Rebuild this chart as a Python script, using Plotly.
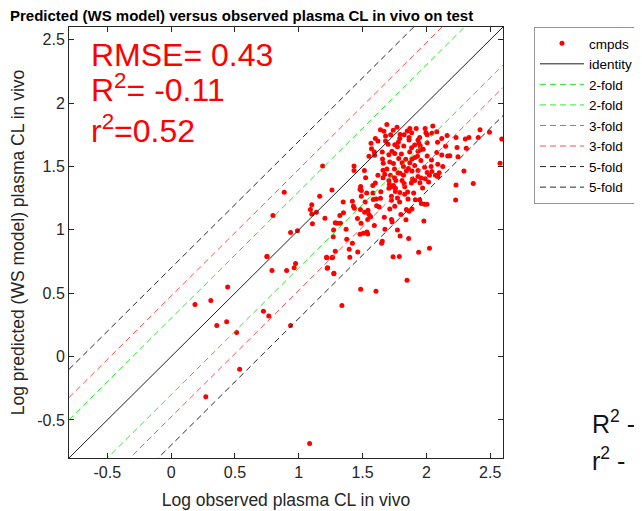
import math
import plotly.graph_objects as go

# ---------------- data ----------------
obs_log_cl = [
    1.085, 0.537, 0.272, 0.358, 0.435, 0.513, 0.187, 0.311, 0.443, 0.723, 0.765, 0.936,
    0.75, 0.79, 0.905, 0.964, 0.975, 1.22, 1.26, 1.226, 1.275, 1.286,
    1.667, 1.74, 1.794, 1.825, 1.884, 1.996, 2.043, 2.081, 2.006, 1.947, 1.864, 1.791,
    1.864, 1.934, 2.006, 1.941, 1.908, 1.752, 1.70, 1.566, 1.773, 1.822, 1.884, 1.952,
    1.975, 2.087, 1.592, 1.654, 1.706, 1.752, 1.804, 1.869, 1.934, 2.006, 2.081, 1.783,
    1.838, 1.887, 1.957, 1.662, 1.713, 1.742, 1.656, 1.594, 1.514, 1.433, 1.433, 1.187,
    1.82, 1.859, 1.908, 1.934, 1.986, 2.037, 2.089, 2.128, 2.006, 2.043, 2.071, 2.089,
    1.794, 1.843, 1.887, 1.934, 1.96, 2.024, 1.674, 1.718, 1.778, 1.62, 1.706, 1.809,
    1.89, 1.908, 1.882, 1.949, 1.991, 2.017, 1.742, 1.706, 1.757, 1.825, 1.853, 1.791,
    1.524, 1.485, 1.48, 1.49, 1.581, 1.643, 1.721, 1.726, 1.726, 1.773, 1.757, 1.49,
    1.532, 1.584, 1.607, 1.542, 1.713, 1.752, 1.843, 1.864, 1.887, 1.947, 1.96, 1.986,
    2.004, 1.913, 1.856, 1.348, 1.42, 1.428, 1.436, 1.483, 1.516, 1.563, 1.54, 1.488,
    1.322, 1.35, 1.286, 1.301, 1.327, 1.371, 1.273, 1.27, 1.376, 1.42, 1.48, 1.506,
    1.534, 1.54, 1.592, 1.654, 1.649, 1.675, 1.726, 1.732, 1.773, 1.794, 1.861, 1.395,
    1.462, 1.218, 1.265, 1.223, 1.275, 1.40, 1.739, 1.788, 1.939, 2.024, 1.848, 1.485,
    1.605, 1.338, 0.886, 1.164, 1.26, 1.102, 1.091, 1.102, 1.138, 0.798, 1.205, 1.107,
    0.936, 0.99, 0.752,
    2.229, 2.367, 2.232, 2.294, 2.577, 2.59, 2.312, 2.406, 2.333, 2.232, 2.162, 2.494,
    2.247, 2.183, 2.167, 2.24, 2.42, 2.305,
    1.69, 1.77, 1.64, 1.87, 1.92, 1.99, 2.05, 1.60, 1.72, 2.12, 2.15, 2.12, 2.04, 2.10,
    1.98, 1.60, 1.66, 1.83, 1.97, 1.55, 1.63, 1.81, 1.68, 1.76,
    1.57, 1.62, 1.68, 1.73, 1.78, 1.85, 1.91, 1.95, 1.52, 1.58, 1.64, 1.69, 1.75, 1.82,
    1.87, 1.93, 1.46, 1.55, 1.61, 1.67, 1.79, 1.84, 1.90, 1.66, 1.71, 1.80, 1.75, 1.83,
]
pred_log_cl = [
    -0.686, -0.10, -0.316, 0.245, 0.274, 0.19, 0.41, 0.443, 0.548, 0.357, 0.32, 0.245,
    0.79, 0.68, 0.68, 0.70, 0.735, 0.78, 0.78, 0.70, 0.657, 0.83,
    1.778, 1.786, 1.752, 1.75, 1.765, 1.765, 1.762, 1.773, 1.75, 1.729, 1.729, 1.721,
    1.708, 1.708, 1.687, 1.682, 1.669, 1.671, 1.676, 1.682, 1.656, 1.661, 1.648, 1.661,
    1.635, 1.69, 1.614, 1.614, 1.593, 1.603, 1.598, 1.614, 1.619, 1.583, 1.609, 1.562,
    1.557, 1.559, 1.546, 1.525, 1.536, 1.523, 1.559, 1.588, 1.468, 1.504, 1.468, 1.504,
    1.50, 1.484, 1.507, 1.468, 1.494, 1.499, 1.517, 1.499, 1.452, 1.46, 1.431, 1.421,
    1.447, 1.465, 1.465, 1.421, 1.408, 1.431, 1.439, 1.431, 1.45, 1.431, 1.39, 1.39,
    1.40, 1.39, 1.369, 1.371, 1.403, 1.377, 1.35, 1.327, 1.327, 1.366, 1.298, 1.295,
    1.41, 1.342, 1.321, 1.311, 1.29, 1.301, 1.337, 1.265, 1.233, 1.252, 1.303, 1.265,
    1.29, 1.239, 1.243, 1.155, 1.165, 1.186, 1.16, 1.147, 1.165, 1.238, 1.207, 1.202,
    1.202, 1.238, 1.243, 1.22, 1.225, 1.186, 1.171, 1.16, 1.139, 1.103, 1.082, 1.051,
    1.113, 1.134, 1.056, 1.051, 1.051, 1.004, 0.998, 0.946, 0.925, 0.894, 0.965, 0.972,
    0.983, 0.967, 1.035, 0.91, 0.894, 1.004, 1.082, 1.061, 0.998, 0.951, 0.931, 0.847,
    0.826, 0.784, 0.784, 0.696, 0.654, 0.784, 0.787, 0.79, 0.824, 0.855, 0.602, 0.532,
    0.516, 0.404, 1.296, 1.264, 1.314, 1.197, 1.16, 1.124, 1.139, 1.113, 1.092, 1.048,
    0.978, 0.993, 0.79,
    1.236, 1.366, 1.353, 1.465, 1.525, 1.716, 1.643, 1.729, 1.729, 1.729, 1.744, 1.77,
    1.577, 1.585, 1.583, 1.65, 1.789, 1.716,
    1.83, 1.81, 1.79, 1.80, 1.80, 1.80, 1.82, 1.72, 1.75, 1.72, 1.66, 1.59, 1.55, 1.45,
    1.07, 1.37, 1.47, 1.28, 1.33, 1.58, 1.18, 1.53, 1.70, 1.39,
    1.64, 1.70, 1.74, 1.62, 1.69, 1.78, 1.57, 1.63, 1.22, 1.35, 1.25, 1.48, 1.41, 1.43,
    1.53, 1.58, 1.09, 1.12, 1.19, 1.10, 1.22, 1.08, 1.29, 1.41, 1.36, 1.12, 1.48, 1.34,
]

fold_factors = [2, 3, 5]
fold_labels = ["2-fold", "3-fold", "5-fold"]
fold_colors = ["rgb(40,235,40)", "rgb(255,80,80)", "rgb(40,40,40)"]

stats_text = ["RMSE= 0.43", "R<sup>2</sup>= -0.11", "r<sup>2</sup>=0.52"]
side_text = ["R<sup>2</sup> -", "r<sup>2</sup> -"]

x_range = [-0.8, 2.6]
y_range = [-0.8, 2.6]
tick_vals = [-0.5, 0, 0.5, 1, 1.5, 2, 2.5]
tick_text = ["-0.5", "0", "0.5", "1", "1.5", "2", "2.5"]

title_text = "Predicted (WS model) versus observed plasma CL in vivo on test"
x_title = "Log observed plasma CL in vivo"
y_title = "Log predicted (WS model) plasma CL in vivo"

# ---------------- figure ----------------
FONT = "Liberation Sans, Arial, sans-serif"
OFF = 8  # page body margin offset
W, H = 634, 503
ML, MR, MT, MB = 61, 139, 19, 53
PW, PH = W - ML - MR, H - MT - MB

fig = go.Figure()

fig.add_trace(go.Scatter(
    x=obs_log_cl, y=pred_log_cl, mode="markers", name="cmpds",
    marker=dict(color="rgb(255,0,0)", size=5, line=dict(width=0)),
))

fig.add_trace(go.Scatter(
    x=x_range, y=x_range, mode="lines", name="identity",
    line=dict(color="rgb(30,30,30)", width=1),
))

for f, lab, col in zip(fold_factors, fold_labels, fold_colors):
    off = math.log10(f)
    for sgn in (1, -1):
        fig.add_trace(go.Scatter(
            x=x_range, y=[v + sgn * off for v in x_range], mode="lines", name=lab,
            line=dict(color=col, width=1, dash="6px,4px"),
        ))


def px2paper_x(px):
    return (px - OFF - ML) / PW


def px2paper_y(py):
    return (H - MB - (py - OFF)) / PH


for txt, yc in zip(stats_text, [55, 88, 129]):
    fig.add_annotation(
        text=txt, xref="paper", yref="paper",
        x=px2paper_x(89), y=px2paper_y(yc), xanchor="left", yanchor="middle",
        showarrow=False, font=dict(family=FONT, size=32, color="rgb(255,0,0)"),
    )

for txt, yc in zip(side_text, [422, 459]):
    fig.add_annotation(
        text=txt, xref="paper", yref="paper",
        x=px2paper_x(590), y=px2paper_y(yc), xanchor="left", yanchor="middle",
        showarrow=False, font=dict(family=FONT, size=25, color="rgb(20,20,20)"),
    )

axis_common = dict(
    showline=True, linecolor="rgb(38,38,38)", linewidth=1, mirror="allticks",
    ticks="inside", ticklen=5, tickcolor="rgb(38,38,38)", tickwidth=1,
    showgrid=False, zeroline=False, automargin=False,
    tickfont=dict(family=FONT, size=16, color="rgb(38,38,38)"),
    tickvals=tick_vals, ticktext=tick_text,
)

fig.update_layout(
    width=W, height=H,
    margin=dict(l=ML, r=MR, t=MT, b=MB, pad=0, autoexpand=False),
    paper_bgcolor="white", plot_bgcolor="white",
    title=dict(
        text="<b>" + title_text + "</b>", x=2 / W, xanchor="left", xref="container",
        y=1 - 7.5 / H, yanchor="middle", yref="container",
        font=dict(family=FONT, size=15, color="black"),
    ),
    xaxis=dict(range=x_range,
               title=dict(text=x_title, font=dict(family=FONT, size=17.5, color="rgb(38,38,38)"), standoff=13),
               **axis_common),
    yaxis=dict(range=y_range,
               title=dict(text=y_title, font=dict(family=FONT, size=17.5, color="rgb(38,38,38)"), standoff=8),
               **axis_common),
    showlegend=True,
    legend=dict(
        x=px2paper_x(534), y=1.0, xanchor="left", yanchor="top",
        bgcolor="white", bordercolor="rgb(150,150,150)", borderwidth=1,
        font=dict(family=FONT, size=13.5, color="black"),
        tracegroupgap=0, itemwidth=44,
    ),
)

fig.write_html("out.html")
